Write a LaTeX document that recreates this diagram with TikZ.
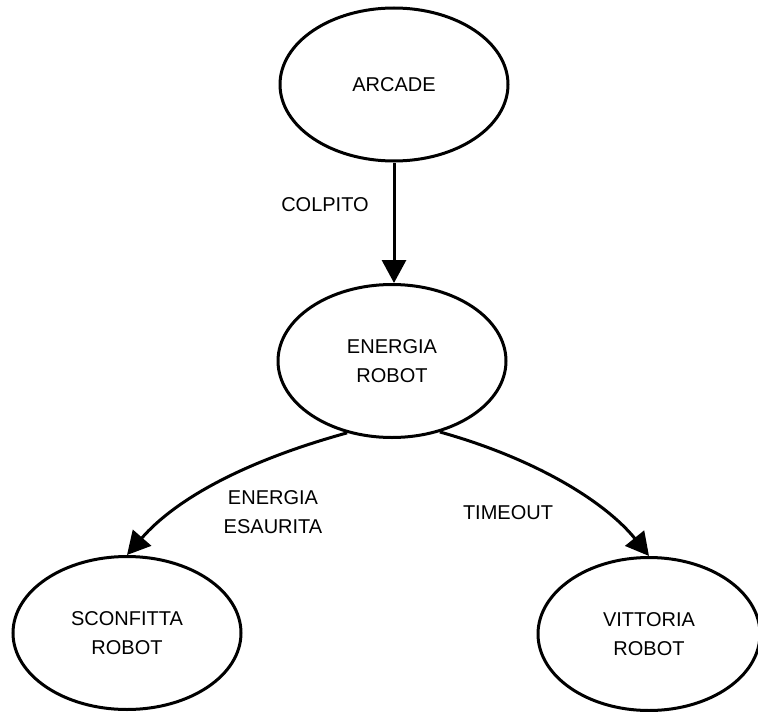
\documentclass[tikz,border=0pt]{standalone}
\usepackage{fontspec}
\setmainfont{Liberation Sans}
\usetikzlibrary{arrows.meta,shapes.geometric}
\begin{document}
\begin{tikzpicture}[x=1pt,y=-1pt,
  state/.style={ellipse,draw,line width=3pt,inner sep=0pt,
    minimum width=228pt,minimum height=153pt,align=center,
    font=\fontsize{20}{29.5}\selectfont},
  lbl/.style={align=center,inner sep=0pt,font=\fontsize{20}{29.5}\selectfont},
  trans/.style={line width=3pt,-{Triangle[length=23pt,width=24pt]}}]
\useasboundingbox (0,0) rectangle (758,712);

\node[state] (arcade) at (394,84.5) {ARCADE};
\node[state] (energia) at (392,361) {ENERGIA\\ROBOT};
\node[state] (sconfitta) at (127,633) {SCONFITTA\\ROBOT};
\node[state,minimum width=222pt] (vittoria) at (649,634) {VITTORIA\\ROBOT};

\draw[trans] (arcade.south) -- (arcade.south |- energia.north);
\draw[trans] (energia.238) .. controls +(-105,29) and +(48,-55) .. (sconfitta.north);
\draw[trans] (energia.304) .. controls +(100,28) and +(-42,-52) .. (vittoria.north);

\node[lbl] (colpito) at (325,205) {COLPITO};
\node[lbl] (esaurita) at (273,512) {ENERGIA\\ESAURITA};
\node[lbl] (timeout) at (508,513) {TIMEOUT};
\end{tikzpicture}
\end{document}
